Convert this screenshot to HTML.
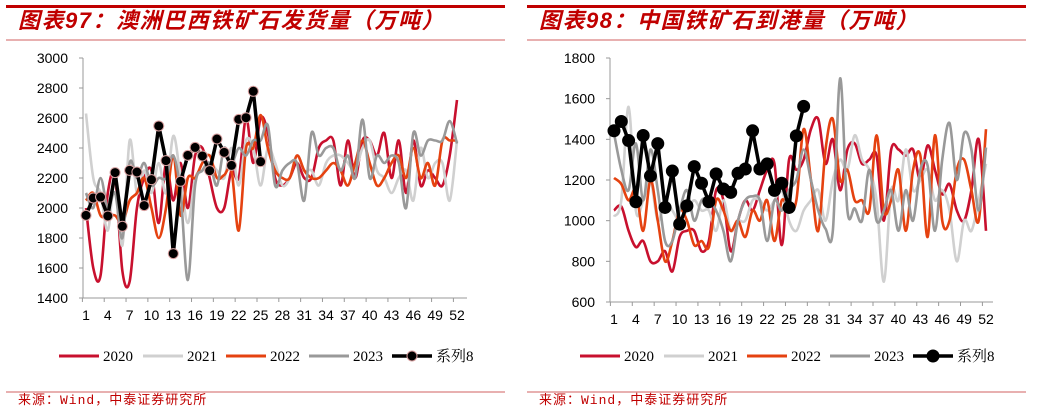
<!DOCTYPE html>
<html><head><meta charset="utf-8"><style>
body{margin:0;background:#fff;width:1044px;height:407px;overflow:hidden;font-family:"Liberation Sans","Noto Sans CJK SC",sans-serif;}
</style></head><body>
<svg id="s" width="1044" height="407" xmlns="http://www.w3.org/2000/svg"></svg>
<script>
const weeks = Array.from({length:52},(_,i)=>i+1);
const xTickLabels = [1,4,7,10,13,16,19,22,25,28,31,34,37,40,43,46,49,52];
const seriesNames = ['2020','2021','2022','2023','系列8'];
const leftTicks = [1400,1600,1800,2000,2200,2400,2600,2800,3000];
const rightTicks = [600,800,1000,1200,1400,1600,1800];
const L2020=[2000,1600,1550,2100,2200,1580,1510,2000,2200,2250,1900,2300,2050,2300,2000,2350,2400,2200,2000,2000,2250,2200,2600,2300,2600,2500,2200,2150,2200,2300,2200,2200,2400,2450,2450,2150,2450,2200,2450,2450,2350,2500,2200,2450,2100,2450,2150,2250,2200,2150,2350,2720];
const L2021=[2630,2200,2100,1850,2200,1750,2450,2100,2250,2100,2300,2100,2480,2200,1900,2200,2250,2300,2250,2200,2400,2150,2450,2400,2150,2400,2300,2150,2200,2350,2250,2250,2150,2300,2350,2350,2300,2250,2400,2450,2250,2200,2100,2200,2250,2050,2400,2200,2300,2300,2050,2450];
const L2022=[2050,2100,1950,1950,1950,1900,2050,2100,2200,2000,1800,2000,2350,1950,2200,2200,2300,2350,2200,2220,2250,1850,2400,2400,2620,2400,2250,2200,2200,2350,2250,2200,2200,2250,2300,2250,2150,2300,2450,2300,2150,2200,2300,2350,2200,2400,2200,2300,2150,2450,2450,2450];
const L2023=[2100,2000,2200,2000,2100,1800,2300,2200,2300,2150,2200,2200,2350,2100,1520,2150,2250,2300,2150,2400,2300,2400,2350,2450,2450,2550,2150,2250,2300,2300,2050,2500,2350,2400,2400,2250,2350,2200,2590,2200,2350,2300,2350,2300,2000,2500,2350,2450,2450,2450,2580,2430];
const L8=[1951,2067,2073,1947,2236,1878,2251,2240,2016,2189,2547,2316,1696,2178,2351,2404,2347,2249,2460,2371,2284,2591,2602,2778,2309];
const R2020=[1050,1070,950,870,900,800,800,850,750,920,950,950,850,900,1150,1100,850,1000,1100,1050,1150,1250,1280,880,1300,1250,1300,1450,1500,1280,1400,1150,1350,1380,1280,1300,1320,1000,1350,1350,1320,1350,1200,1370,1250,1130,1180,1050,1000,1150,1400,950];
const R2021=[1020,1100,1560,1050,1100,1200,1000,1100,1050,1000,1050,1100,1050,1050,950,1100,950,1000,1000,1100,1100,1050,1100,1150,1000,950,1050,1100,1150,1000,1200,1300,1250,1420,1300,1250,1100,700,1150,1100,1350,1150,1200,1250,1100,1150,1050,800,1000,950,1100,1280];
const R2022=[1210,1180,1100,1150,950,1200,1000,800,900,1050,1000,880,900,870,1100,1050,950,1000,920,1050,1000,1100,900,1100,1050,1100,1450,1200,950,1350,1500,1200,1250,1100,1100,1050,1420,1050,1100,1250,950,1250,1320,920,1420,1000,1000,1250,1300,1150,1000,1450];
const R2023=[1430,1250,1150,1380,1100,1350,1150,900,900,1050,1150,1000,1100,1100,1050,950,800,1000,1100,1120,1100,900,1100,1050,1150,1200,1350,1200,1050,960,950,1700,1050,1060,1000,1250,1000,1050,1150,950,1150,1000,1250,1270,950,1300,1480,1200,1430,1350,1050,1360];
const R8=[1442,1488,1394,1093,1419,1220,1379,1065,1244,983,1073,1266,1184,1093,1230,1156,1139,1233,1254,1442,1254,1279,1149,1184,1065,1417,1562];

const svg=document.getElementById('s');
const NS='http://www.w3.org/2000/svg';
function mk(tag,attrs,parent,text){const e=document.createElementNS(NS,tag);for(const k in attrs)e.setAttribute(k,attrs[k]);if(text!==undefined)e.textContent=text;(parent||svg).appendChild(e);return e;}
const colors=['#c8102e','#d0d0d0','#e54210','#999999','#000000'];

function smoothPath(pts){let d='M'+pts[0][0]+','+pts[0][1];
 for(let i=0;i<pts.length-1;i++){const p0=pts[i-1]||pts[i],p1=pts[i],p2=pts[i+1],p3=pts[i+2]||p2;
  const c1x=p1[0]+(p2[0]-p0[0])/6,c1y=p1[1]+(p2[1]-p0[1])/6,c2x=p2[0]-(p3[0]-p1[0])/6,c2y=p2[1]-(p3[1]-p1[1])/6;
  d+=` C${c1x},${c1y} ${c2x},${c2y} ${p2[0]},${p2[1]}`;}return d;}

function chart(cfg){
 const g=mk('g',{});
 const o=cfg.off;
 const bar=mk('rect',{x:o+6,y:5,width:499,height:3,fill:'#c00000'},g);
 const t=mk('text',{x:o+18,y:28,'font-size':22,'letter-spacing':1.5,'font-weight':'bold','font-style':'italic',fill:'#c00000','font-family':'"Liberation Sans","Noto Sans CJK SC",sans-serif'},g,cfg.title);
 const l1=mk('rect',{x:o+6,y:39.5,width:499,height:1,fill:'#d06060'},g);
 const l2=mk('rect',{x:o+6,y:391.5,width:499,height:1,fill:'#d06060'},g);
 const src=mk('text',{x:o+18,y:404,'font-size':13,'letter-spacing':1,fill:'#c00000','font-family':'"Liberation Mono","Noto Sans CJK SC",monospace'},g,'来源：Wind，中泰证券研究所');
 const [y0,y1]=[cfg.ticks[0],cfg.ticks[cfg.ticks.length-1]];
 const Y=v=>cfg.bot-(v-y0)/(y1-y0)*(cfg.bot-cfg.top);
 const X=w=>cfg.x1+(w-1)*(cfg.x52-cfg.x1)/51;
 const ax=mk('g',{},g);
 mk('line',{x1:cfg.ax,y1:cfg.top,x2:cfg.ax,y2:cfg.bot,stroke:'#999','stroke-width':1},ax);
 cfg.ticks.forEach(v=>{mk('line',{x1:cfg.ax-4,y1:Y(v),x2:cfg.ax,y2:Y(v),stroke:'#999'},ax);
  const tl=mk('text',{x:cfg.ax-15,y:Y(v)+5,'font-size':14,'text-anchor':'end',fill:'#000'},ax,String(v));});
 const xa=mk('g',{},g);
 mk('line',{x1:cfg.ax,y1:cfg.bot,x2:cfg.xend,y2:cfg.bot,stroke:'#999'},xa);
 for(let w=1;w<=52;w+=3){mk('line',{x1:X(w)-3.6,y1:cfg.bot,x2:X(w)-3.6,y2:cfg.bot+4,stroke:'#999'},xa);}
 xTickLabels.forEach(w=>{const tl=mk('text',{x:X(w),y:cfg.bot+22,'font-size':14,'text-anchor':'middle',fill:'#000'},xa,String(w));});
 cfg.series.forEach((s,i)=>{const pts=s.map((v,k)=>[X(k+1),Y(v)]);
  const p=mk('path',{d:i<4?smoothPath(pts):'M'+pts.map(q=>q.join(',')).join(' L'),fill:'none',stroke:colors[i],'stroke-width':i<4?2.6:3.5,'stroke-linejoin':'round'},g);
  
  if(i==4)pts.forEach(q=>{const c=mk('circle',{cx:q[0],cy:q[1],r:cfg.mr,fill:'#000',stroke:cfg.ms,'stroke-width':1},g);});
 });
 const lg=mk('g',{},g);
 const lx=[59,143,226,309,392];
 seriesNames.forEach((n,i)=>{const x=o+lx[i];
  const e=mk('g',{},lg);
  mk('line',{x1:x,y1:356,x2:x+40,y2:356,stroke:colors[i],'stroke-width':i<4?3:3.5},e);
  if(i==4)mk('circle',{cx:x+20,cy:356,r:cfg.mr,fill:'#000',stroke:cfg.ms},e);
  mk('text',{x:x+44,y:361,'font-size':15,fill:'#000','font-family':'"Liberation Serif","Noto Serif CJK SC",serif'},e,n);});
}
chart({name:'chart-97',off:0,title:'图表97：澳洲巴西铁矿石发货量（万吨）',ticks:leftTicks,top:58,bot:298,ax:83,x1:86,x52:457,xend:467,series:[L2020,L2021,L2022,L2023,L8],mr:5,ms:'#d8a0a0'});
chart({name:'chart-98',off:521,title:'图表98：中国铁矿石到港量（万吨）',ticks:rightTicks,top:58,bot:302,ax:610,x1:614,x52:986,xend:993,series:[R2020,R2021,R2022,R2023,R8],mr:6,ms:'#000'});
</script>
</body></html>
